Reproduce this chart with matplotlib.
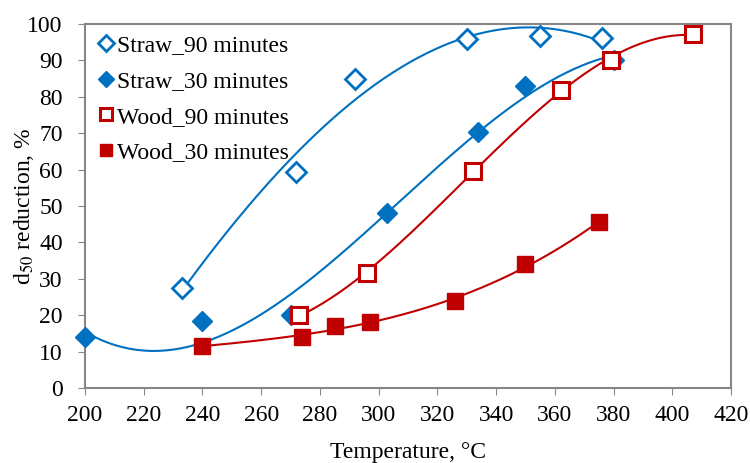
import numpy as np
import matplotlib
matplotlib.use('Agg')
import matplotlib.pyplot as plt

# Data
straw90_t = [233, 272, 292, 330, 355, 376]
straw90_d = [27.5, 59.3, 85.0, 96.0, 96.8, 96.3]
straw30_t = [200, 240, 270, 303, 334, 350, 380]
straw30_d = [14.0, 18.3, 20.0, 48.0, 70.3, 83.0, 90.0]
wood90_t = [273, 296, 332, 362, 379, 407]
wood90_d = [20.0, 31.5, 59.5, 82.0, 90.0, 97.2]
wood30_t = [240, 274, 285, 297, 326, 350, 375]
wood30_d = [11.5, 14.0, 17.0, 18.0, 23.8, 34.0, 45.5]

BLUE = '#0070C0'
RED = '#C00000'
GREY = '#868686'
FS = 17

plt.rcParams['font.family'] = ['Liberation Serif']
plt.rcParams['mathtext.fontset'] = 'stix'

fig = plt.figure(figsize=(7.5, 4.63), dpi=100)
ax = fig.add_axes([0.1133, 0.162, 0.8614, 0.786])

def trend(t, d, color, order=3):
    'Polynomial trendline like the spreadsheet one'
    coef = np.polyfit(t, d, order)
    xs = np.linspace(min(t), max(t), 200)
    ax.plot(xs, np.polyval(coef, xs), color=color, lw=1.5, zorder=2)

trend(straw90_t, straw90_d, BLUE)
trend(straw30_t, straw30_d, BLUE)
trend(wood90_t, wood90_d, RED)
trend(wood30_t, wood30_d, RED)

ax.plot(straw90_t, straw90_d, ls='none', marker='D', ms=10, mfc='white', mec=BLUE, mew=2,
        label='Straw_90 minutes', zorder=3, clip_on=False)
ax.plot(straw30_t, straw30_d, ls='none', marker='D', ms=10, mfc=BLUE, mec=BLUE,
        label='Straw_30 minutes', zorder=3, clip_on=False)
ax.plot(wood90_t, wood90_d, ls='none', marker='s', ms=11, mfc='white', mec=RED, mew=2.2,
        label='Wood_90 minutes', zorder=3, clip_on=False)
ax.plot(wood30_t, wood30_d, ls='none', marker='s', ms=11, mfc=RED, mec=RED,
        label='Wood_30 minutes', zorder=3, clip_on=False)

ax.set_xlim(200, 420)
ax.set_ylim(0, 100)
ax.set_xticks(range(200, 421, 20))
ax.set_yticks(range(0, 101, 10))
ax.tick_params(direction='out', length=5, color=GREY, labelsize=FS)
ax.tick_params(axis='x', pad=7)
ax.tick_params(axis='y', pad=11)
for s in ax.spines.values():
    s.set_color(GREY)
    s.set_linewidth(1.5)

ax.set_xlabel('Temperature, °C', fontsize=FS, labelpad=12)
ax.set_ylabel(r'd$_{50}$ reduction, %', fontsize=FS, labelpad=-6)

ax.legend(loc='upper left', frameon=False, fontsize=FS, handletextpad=0.0,
          handlelength=0.9, labelspacing=0.6, borderaxespad=0.15,
          borderpad=0.3, markerscale=0.85)

fig.savefig('out.png', dpi=100)
